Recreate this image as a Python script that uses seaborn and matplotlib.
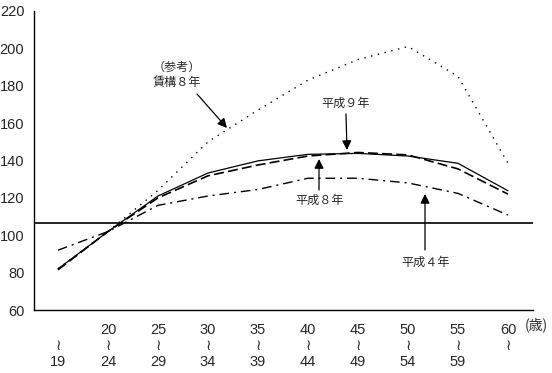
import numpy as np
import pandas as pd
import matplotlib
matplotlib.use('Agg')
import matplotlib.pyplot as plt
import seaborn as sns

# 年齢階級（上段・下段）
age_top = ['', '20', '25', '30', '35', '40', '45', '50', '55', '60']
age_bottom = ['19', '24', '29', '34', '39', '44', '49', '54', '59', '']

# 賃金カーブ（20〜24歳付近=100 基準）
chinko_h8 = [82, 102, 124, 150, 167, 183, 194, 201, 185, 138.5]
heisei_9 = [82, 102, 121, 133.3, 139.8, 143.3, 143.8, 142.4, 138.5, 123.8]
heisei_8 = [81.5, 102, 120, 131.8, 137.6, 142.4, 144.3, 143, 135.5, 122]
heisei_4 = [92, 102, 116, 121, 124.5, 130.5, 130.5, 128, 122.4, 110.8]
ref_level = 106.4

sns.set_style('white')
plt.rcParams['font.family'] = ['Liberation Sans', 'Noto Sans CJK JP', 'DejaVu Sans']
jp = ['Noto Sans CJK JP', 'DejaVu Sans']

x = np.arange(len(age_top))
df = pd.DataFrame({'x': x, 'chinko': chinko_h8, 'h9': heisei_9,
                   'h8': heisei_8, 'h4': heisei_4})

fig = plt.figure(figsize=(5.52, 3.73), dpi=100)
ax = fig.add_axes([34 / 552, 63 / 373, 499 / 552, 299 / 373])

sns.lineplot(data=df, x='x', y='chinko', ax=ax, color='black', lw=1,
             linestyle=(0, (1, 4)))
sns.lineplot(data=df, x='x', y='h9', ax=ax, color='black', lw=0.9)
sns.lineplot(data=df, x='x', y='h8', ax=ax, color='black', lw=1.2,
             linestyle=(0, (6, 2.5)))
sns.lineplot(data=df, x='x', y='h4', ax=ax, color='black', lw=1,
             linestyle=(0, (7, 3.5, 1.5, 3.5)))
ax.axhline(ref_level, color='black', lw=1.2)

ax.set_xlim(-0.48, 9.5)
ax.set_ylim(60, 220)
ax.set_yticks(np.arange(60, 221, 20))
ax.tick_params(axis='y', length=0, pad=7, labelsize=10.5)
ax.set_yticks([220], minor=True)
ax.tick_params(axis='y', which='minor', direction='in', length=5, width=1)

ax.set_xticks(x)
ax.set_xticklabels([f'{t}\n≀\n{b}' for t, b in zip(age_top, age_bottom)])
ax.set_xticks(np.arange(0.5, 10, 1), minor=True)
ax.tick_params(axis='x', which='both', direction='out', length=5, width=1,
               color='black', labelsize=10.5, pad=4)
for lbl in ax.get_xticklabels():
    lbl.set_linespacing(1.2)
ax.text(536, 373 - 325, '(歳)', transform=None, family=jp, fontsize=10,
        ha='center', va='center')

for s in ['top', 'right']:
    ax.spines[s].set_visible(False)
for s in ['left', 'bottom']:
    ax.spines[s].set_color('black')
    ax.spines[s].set_linewidth(1)
ax.set_xlabel('')
ax.set_ylabel('')

arrow = dict(arrowstyle='-|>', color='black', lw=0.9, shrinkA=0, shrinkB=0,
             mutation_scale=14)
ax.text(2.38, 185.7, '（参考）\n賃構８年', family=jp, fontsize=8.7,
        ha='center', va='center', linespacing=1.2)
ax.annotate('', xy=(3.38, 157.4), xytext=(2.78, 175.6), arrowprops=arrow)
ax.text(5.76, 170.8, '平成９年', family=jp, fontsize=8.7, ha='center', va='center')
ax.annotate('', xy=(5.78, 145.6), xytext=(5.76, 164.9), arrowprops=arrow)
ax.text(5.24, 118.9, '平成８年', family=jp, fontsize=8.7, ha='center', va='center')
ax.annotate('', xy=(5.22, 140.8), xytext=(5.22, 124.2), arrowprops=arrow)
ax.text(7.36, 85.7, '平成４年', family=jp, fontsize=8.7, ha='center', va='center')
ax.annotate('', xy=(7.34, 122.1), xytext=(7.34, 92.1), arrowprops=arrow)

fig.savefig('out.png', dpi=100)
